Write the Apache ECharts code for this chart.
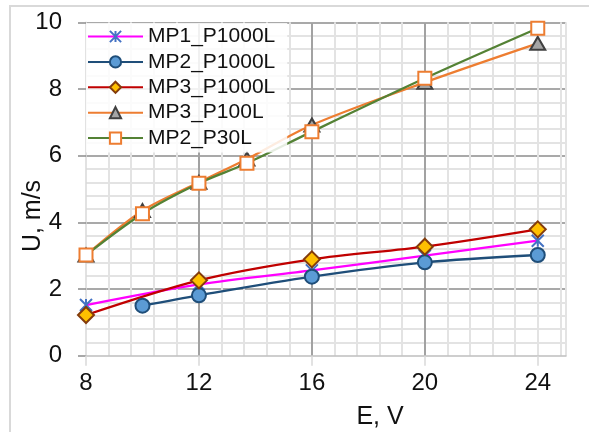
<!DOCTYPE html>
<html>
<head>
<meta charset="utf-8">
<script src="https://cdn.jsdelivr.net/npm/echarts@6/dist/echarts.min.js"></script>
<style>html,body{margin:0;padding:0;background:#fff;}#c{width:589px;height:432px;}</style>
</head>
<body>
<div id="c"></div>
<script>
// ---- data ----
const seriesNames = ['MP1_P1000L', 'MP2_P1000L', 'MP3_P1000L', 'MP3_P100L', 'MP2_P30L'];
const xMP1_P1000L = [8, 12, 16, 20, 24];
const yMP1_P1000L = [1.52, 2.14, 2.56, 3.0, 3.45];
const xMP2_P1000L = [10, 12, 16, 20, 24];
const yMP2_P1000L = [1.50, 1.81, 2.37, 2.80, 3.02];
const xMP3_P1000L = [8, 12, 16, 20, 24];
const yMP3_P1000L = [1.22, 2.26, 2.89, 3.27, 3.79];
const xMP3_P100L = [8, 10, 12, 13.7, 16, 20, 24];
const yMP3_P100L = [3.02, 4.35, 5.2, 5.9, 6.92, 8.2, 9.37];
const xMP2_P30L = [8, 10, 12, 13.7, 16, 20, 24];
const yMP2_P30L = [3.02, 4.26, 5.17, 5.77, 6.72, 8.32, 9.82];
const xTicks = [8, 12, 16, 20, 24];
const yTicks = [0, 2, 4, 6, 8, 10];
const xTitle = 'E, V';
const yTitle = 'U, m/s';

function pairs(xs, ys) { return xs.map((x, i) => [x, ys[i]]); }

const starPath = 'path://M0,0L10,10M10,0L0,10M5,0L5,10';
const FONT = 'Liberation Sans, Arial, sans-serif';

const chart = echarts.init(document.getElementById('c'), null, {renderer: 'canvas'});
const lw = 2.3;
chart.setOption({
  animation: false,
  backgroundColor: '#ffffff',
  textStyle: {fontFamily: FONT},
  grid: {left: 86, right: 23, top: 22.3, bottom: 76.3, containLabel: false, outerBoundsMode: 'none'},
  xAxis: [
    {
      type: 'value', min: 8, max: 25, interval: 4,
      axisLine: {show: true, onZero: false, lineStyle: {color: '#bfbfbf', width: 1.5}},
      axisTick: {show: true, length: 10, customValues: xTicks, lineStyle: {color: '#d9d9d9', width: 1.5}},
      axisLabel: {show: true, customValues: xTicks, margin: 16, color: '#111', fontSize: 24, fontFamily: FONT},
      splitLine: {show: true, showMinLine: false, showMaxLine: false, lineStyle: {color: '#8c8c8c', width: 1.5}},
      z: 3
    },
    {
      type: 'value', min: 8, max: 25, interval: 0.8, position: 'bottom',
      axisLine: {show: false}, axisTick: {show: false}, axisLabel: {show: false},
      splitLine: {show: true, showMinLine: false, lineStyle: {color: '#e3e3e3', width: 2}},
      z: 1
    }
  ],
  yAxis: {
    type: 'value', min: 0, max: 10, interval: 2,
    axisLine: {show: true, lineStyle: {color: '#d9d9d9', width: 1.5}},
    axisTick: {show: true, length: 8, lineStyle: {color: '#8c8c8c', width: 1.5}},
    axisLabel: {margin: 24, color: '#111', fontSize: 24, fontFamily: FONT},
    splitLine: {show: true, showMinLine: false, lineStyle: {color: '#8c8c8c', width: 1.5}},
    minorTick: {show: false, splitNumber: 5},
    minorSplitLine: {show: true, lineStyle: {color: '#e3e3e3', width: 2}}
  },
  legend: {
    show: true,
    left: 86, top: 23,
    orient: 'vertical',
    itemWidth: 55, itemHeight: 14, itemGap: 4.4,
    padding: [3, 12, 4, 1],
    backgroundColor: 'rgba(255,255,255,0.85)',
    textStyle: {fontSize: 21, color: '#111', fontFamily: FONT, lineHeight: 20, padding: [0, 0, 0, 0]},
    data: seriesNames
  },
  graphic: [
    {type: 'rect', shape: {x: 10, y: 6, width: 600, height: 450}, style: {fill: 'none', stroke: '#d9d9d9', lineWidth: 2}, silent: true, z: 0},
    {type: 'text', x: 380, y: 417, style: {text: xTitle, font: '25px ' + FONT, fill: '#111', textAlign: 'center', textVerticalAlign: 'middle'}},
    {type: 'text', x: 33, y: 216, rotation: Math.PI / 2, style: {text: yTitle, font: '25px ' + FONT, fill: '#111', textAlign: 'center', textVerticalAlign: 'middle'}}
  ],
  series: [
    {
      name: seriesNames[0], type: 'line', data: pairs(xMP1_P1000L, yMP1_P1000L), smooth: 0.3,
      symbol: starPath, symbolSize: 12,
      lineStyle: {color: '#ff00ff', width: lw},
      itemStyle: {color: 'rgba(0,0,0,0)', borderColor: '#4472c4', borderWidth: 2}
    },
    {
      name: seriesNames[1], type: 'line', data: pairs(xMP2_P1000L, yMP2_P1000L), smooth: 0.3,
      symbol: 'circle', symbolSize: 14,
      lineStyle: {color: '#1f4e79', width: lw},
      itemStyle: {color: '#5b9bd5', borderColor: '#1f4e79', borderWidth: 2}
    },
    {
      name: seriesNames[2], type: 'line', data: pairs(xMP3_P1000L, yMP3_P1000L), smooth: 0.3,
      symbol: 'diamond', symbolSize: 16,
      lineStyle: {color: '#c00000', width: lw},
      itemStyle: {color: '#ffc000', borderColor: '#843c0c', borderWidth: 2}
    },
    {
      name: seriesNames[3], type: 'line', data: pairs(xMP3_P100L, yMP3_P100L), smooth: 0.3,
      symbol: 'triangle', symbolSize: [15, 13],
      lineStyle: {color: '#ed7d31', width: lw},
      itemStyle: {color: '#a5a5a5', borderColor: '#404040', borderWidth: 2}
    },
    {
      name: seriesNames[4], type: 'line', data: pairs(xMP2_P30L, yMP2_P30L), smooth: 0.3,
      symbol: 'rect', symbolSize: 13,
      lineStyle: {color: '#548235', width: lw},
      itemStyle: {color: '#ffffff', borderColor: '#ed7d31', borderWidth: 2}
    }
  ]
});
</script>
</body>
</html>
